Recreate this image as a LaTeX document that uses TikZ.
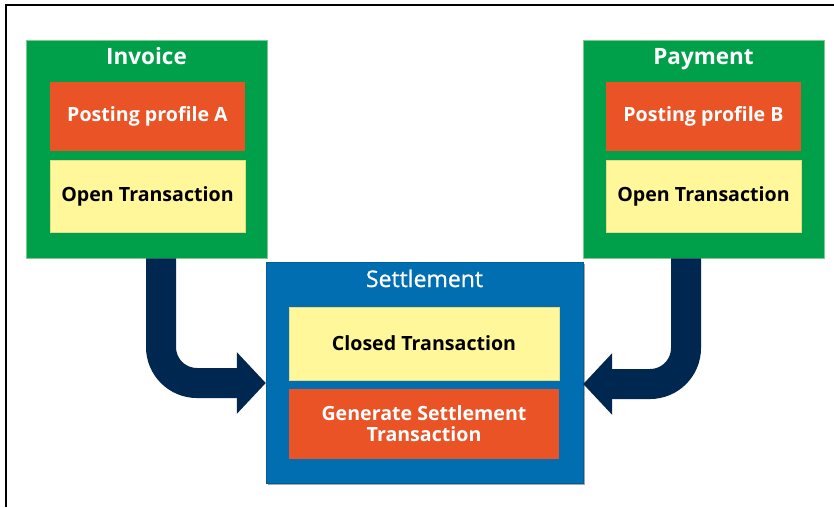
\documentclass[tikz,border=0pt]{standalone}
\usepackage{fontspec}
\setmainfont{Open Sans}
\newfontfamily\settlefont[FakeBold=0.8]{Open Sans}
\usetikzlibrary{arrows.meta,shadows}
\definecolor{boxgreen}{HTML}{00A04B}
\definecolor{edgegreen}{HTML}{7DCB8A}
\definecolor{boxorange}{HTML}{E95326}
\definecolor{boxyellow}{HTML}{FFF799}
\definecolor{edgeyellow}{HTML}{E6DC86}
\definecolor{boxblue}{HTML}{006EB0}
\definecolor{navy}{HTML}{00274F}
\tikzset{
  outerbox/.style={draw=edgegreen, line width=0.6pt, fill=boxgreen, inner sep=0pt, minimum width=241pt, minimum height=218pt},
  setbox/.style={draw=boxblue!85!black, line width=0.4pt, fill=boxblue, inner sep=0pt, minimum width=317pt, minimum height=221pt,
    drop shadow={shadow xshift=1.5pt, shadow yshift=-1.5pt, opacity=0.35, fill=black}},
  orangebox/.style={fill=boxorange, inner sep=0pt, minimum width=195pt, minimum height=69pt, text=white, font=\fontsize{19.6}{21}\selectfont\bfseries, align=center},
  yellowbox/.style={fill=boxyellow, draw=edgeyellow, line width=0.4pt, inner sep=0pt, minimum width=195pt, minimum height=72pt, text=black, font=\fontsize{19.6}{22}\selectfont\bfseries,
    drop shadow={shadow xshift=1pt, shadow yshift=-1.2pt, opacity=0.3, fill=black}},
  titletext/.style={text=white, inner sep=0pt, anchor=base, font=\fontsize{22.5}{24}\selectfont\bfseries},
  settitle/.style={text=white, inner sep=0pt, anchor=base, font=\fontsize{23}{24}\selectfont\settlefont},
  bigarrow/.style={draw=navy, line width=30pt, rounded corners=36pt, -{Triangle[length=29pt,width=60pt]}}
}
\begin{document}
\begin{tikzpicture}[x=1pt,y=-1pt]
\useasboundingbox[fill=white] (0,0) rectangle (834,507);
\draw[line width=2pt, black] (6,507) -- (6,5) -- (834,5);
% Invoice
\node[outerbox] (inv) at (146.5,149) {};
\node[titletext] (invt) at (146.5,64) {Invoice};
\node[orangebox] (ppa) at (147.5,116.5) {Posting profile A};
\node[yellowbox] (ota) at (147.5,196) {Open Transaction};
% Payment
\node[outerbox] (pay) at (703.5,149) {};
\node[titletext] (payt) at (703.5,64) {Payment};
\node[orangebox] (ppb) at (703.5,116.5) {Posting profile B};
\node[yellowbox] (otb) at (703.5,196) {Open Transaction};
% Settlement
\node[setbox] (set) at (424.5,372.5) {};
\node[settitle] (sett) at (424.5,287) {Settlement};
\node[yellowbox, minimum width=270pt, minimum height=73pt] (closed) at (424,343.5) {Closed Transaction};
\node[orangebox, minimum width=270pt, minimum height=70pt] (gen) at (424,424) {Generate Settlement\\Transaction};
% Arrows
\draw[bigarrow] ([xshift=14.5pt]inv.south) |- ([yshift=-10.5pt]set.west);
\draw[bigarrow] ([xshift=-17.5pt]pay.south) |- ([yshift=-11.5pt]set.east);
\end{tikzpicture}
\end{document}
